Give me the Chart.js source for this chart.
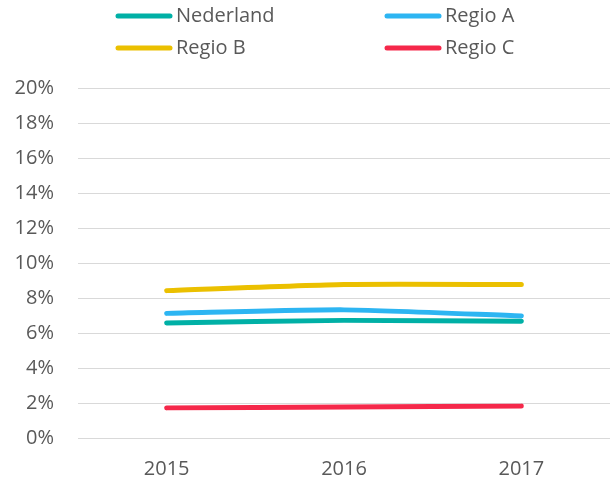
<!DOCTYPE html>
<html>
<head>
<meta charset="utf-8">
<script src="https://cdn.jsdelivr.net/npm/chart.js@4/dist/chart.umd.min.js"></script>
<style>
  html, body { margin: 0; padding: 0; background: #fff; }
  canvas { display: block; }
</style>
</head>
<body>
<canvas id="chart" width="612" height="481"></canvas>
<script>
let years = ["2015", "2016", "2017"]

let nederland = [6.6, 6.75, 6.7]
let regioA = [7.15, 7.35, 7.0]
let regioB = [8.45, 8.8, 8.8]
let regioC = [1.75, 1.8, 1.85]

let seriesNames = ["Nederland", "Regio A", "Regio B", "Regio C"]
let seriesColors = ["#00B0A6", "#2DB5F2", "#EBC000", "#F5284A"]

let textColor = "#595959"
let fontFamily = "'Open Sans', 'DejaVu Sans', sans-serif"

// legend drawn in two fixed columns like the original
let legendPlugin = {
    id: "gridLegend",
    afterDraw(chart) {
        let ctx = chart.ctx
        let cols = [116, 385]
        let rows = [16, 48]
        ctx.save()
        ctx.font = "20px " + fontFamily
        ctx.textBaseline = "middle"
        ctx.textAlign = "left"
        chart.data.datasets.forEach((ds, i) => {
            let x = cols[i % 2]
            let y = rows[Math.floor(i / 2)]
            ctx.strokeStyle = ds.borderColor
            ctx.lineWidth = 5
            ctx.lineCap = "round"
            ctx.beginPath()
            ctx.moveTo(x + 2, y)
            ctx.lineTo(x + 54, y)
            ctx.stroke()
            ctx.fillStyle = textColor
            ctx.fillText(ds.label, x + 60, y)
        })
        ctx.restore()
    }
}

window.onload = () => {
    let ctx = document.querySelector("#chart").getContext("2d")
    let values = [nederland, regioA, regioB, regioC]

    new Chart(ctx, {
        type: "line",
        data: {
            labels: years,
            datasets: values.map((data, i) => ({
                label: seriesNames[i],
                data: data,
                borderColor: seriesColors[i],
                backgroundColor: seriesColors[i],
                borderWidth: 5,
                borderCapStyle: "round",
                borderJoinStyle: "round",
                pointRadius: 0,
                tension: 0.2
            }))
        },
        options: {
            responsive: false,
            animation: false,
            layout: { padding: { top: 88.5, right: 2, left: 0, bottom: 0 } },
            plugins: {
                legend: { display: false },
                tooltip: { enabled: false }
            },
            scales: {
                x: {
                    offset: true,
                    grid: { display: false, drawTicks: false },
                    border: { display: false },
                    ticks: {
                        color: textColor,
                        font: { family: fontFamily, size: 20 },
                        padding: 19,
                        maxRotation: 0
                    },
                    afterFit(scale) { scale.height = 42.5 }
                },
                y: {
                    min: 0,
                    max: 20,
                    grid: { color: "#D9D9D9", lineWidth: 1, drawTicks: false },
                    border: { display: false },
                    ticks: {
                        stepSize: 2,
                        color: textColor,
                        font: { family: fontFamily, size: 20 },
                        padding: 24,
                        callback: v => v + "%"
                    },
                    afterFit(scale) { scale.width = 78 }
                }
            }
        },
        plugins: [legendPlugin]
    })
}
</script>
</body>
</html>
